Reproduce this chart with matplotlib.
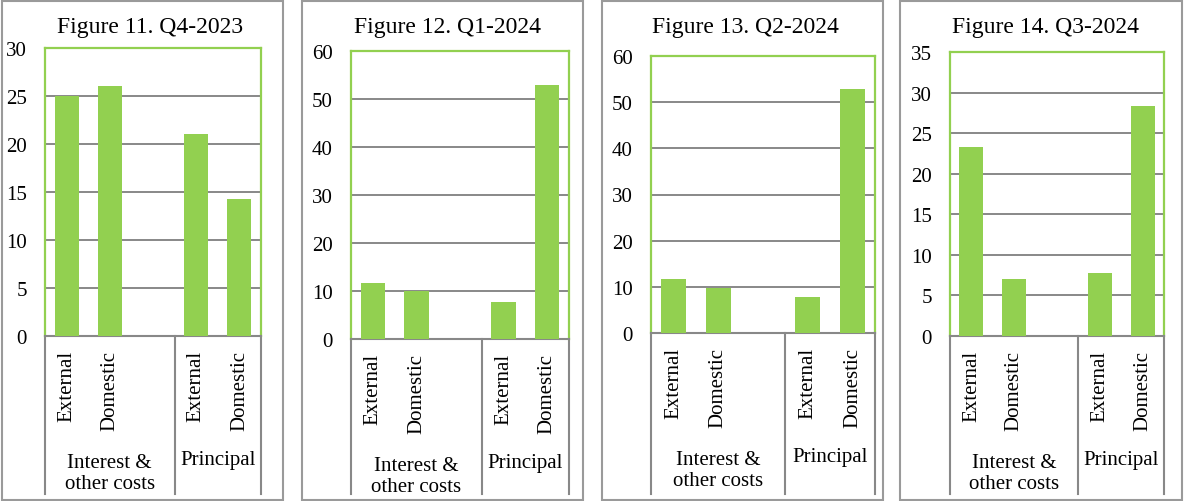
import matplotlib
matplotlib.use("Agg")
import matplotlib.pyplot as plt
import matplotlib.transforms as mtransforms
from matplotlib.patches import Rectangle

# debt service by quarter, 4 small panels
titles = ["Figure 11. Q4-2023", "Figure 12. Q1-2024",
          "Figure 13. Q2-2024", "Figure 14. Q3-2024"]
groups = ["Interest &\nother costs", "Principal"]
categories = ["External", "Domestic", "", "External", "Domestic"]
q4_2023 = [25.0, 26.0, None, 21.0, 14.3]
q1_2024 = [11.7, 9.9, None, 7.8, 52.9]
q2_2024 = [11.7, 9.8, None, 7.7, 52.9]
q3_2024 = [23.3, 7.0, None, 7.8, 28.4]
y_max = [30, 60, 60, 35]
y_step = [5, 10, 10, 5]

W, H = 1184, 502
GREEN = "#92D050"
GRAY = "#888888"
FRAME = "#9a9a9a"

# pixel layout: frame (x0, x1), plot area (x0, x1, ytop, ybot), title x
frames = [(2, 283), (302, 583), (602, 883), (900, 1182)]
plots = [(45, 261, 49, 337), (351, 569, 52, 340),
         (651, 875, 57, 334), (950, 1164, 53, 337)]
title_x = [150, 447, 745, 1045]

plt.rcParams["font.family"] = ["Liberation Serif", "DejaVu Serif"]

fig = plt.figure(figsize=(W / 100, H / 100), dpi=100)
fig.patch.set_facecolor("white")

series = [q4_2023, q1_2024, q2_2024, q3_2024]
for i, vals in enumerate(series):
    fx0, fx1 = frames[i]
    fig.patches.append(Rectangle((fx0 / W, 1 / H), (fx1 - fx0) / W, 499 / H,
                                 transform=fig.transFigure, fill=False,
                                 edgecolor=FRAME, linewidth=1.5))

    px0, px1, pt, pb = plots[i]
    ax = fig.add_axes([px0 / W, 1 - pb / H, (px1 - px0) / W, (pb - pt) / H])
    xs = list(range(len(categories)))
    hx = [x for x, v in zip(xs, vals) if v is not None]
    hv = [v for v in vals if v is not None]
    ax.bar(hx, hv, width=0.56, color=GREEN, zorder=3)
    ax.set_xlim(-0.5, len(categories) - 0.5)
    ax.set_ylim(0, y_max[i])
    ticks = list(range(0, y_max[i] + 1, y_step[i]))
    ax.set_yticks(ticks)
    ax.set_yticklabels([str(t) for t in ticks], fontsize=15)
    ax.tick_params(axis="y", length=0, pad=13)
    ax.set_xticks([])
    for t in ticks[1:-1]:
        ax.axhline(t, color=GRAY, linewidth=1.4, zorder=1)
    for side in ["top", "left", "right"]:
        ax.spines[side].set_color(GREEN)
        ax.spines[side].set_linewidth(1.6)
    ax.spines["bottom"].set_color(GRAY)
    ax.spines["bottom"].set_linewidth(1.5)

    fig.text(title_x[i] / W, 1 - 27 / H, titles[i], fontsize=17,
             ha="center", va="center")

    # category labels under the axis
    trans = mtransforms.blended_transform_factory(ax.transData, fig.transFigure)
    for x, c in zip(xs, categories):
        if c:
            ax.text(x, 1 - (pb + 14) / H, c, transform=trans, rotation=90,
                    ha="center", va="top", fontsize=15)
    # group labels and separators
    ax.text(1, 1 - (pb + 137) / H, groups[0], transform=trans, ha="center",
            va="center", fontsize=15, linespacing=1.15)
    ax.text(3.5, 1 - (pb + 124) / H, groups[1], transform=trans, ha="center",
            va="center", fontsize=15)
    for sx in [-0.5, 2.5, 4.5]:
        ax.plot([sx, sx], [1 - pb / H, 1 - 495 / H], transform=trans,
                color=GRAY, linewidth=1.5, clip_on=False)

fig.savefig("out.png", dpi=100)
